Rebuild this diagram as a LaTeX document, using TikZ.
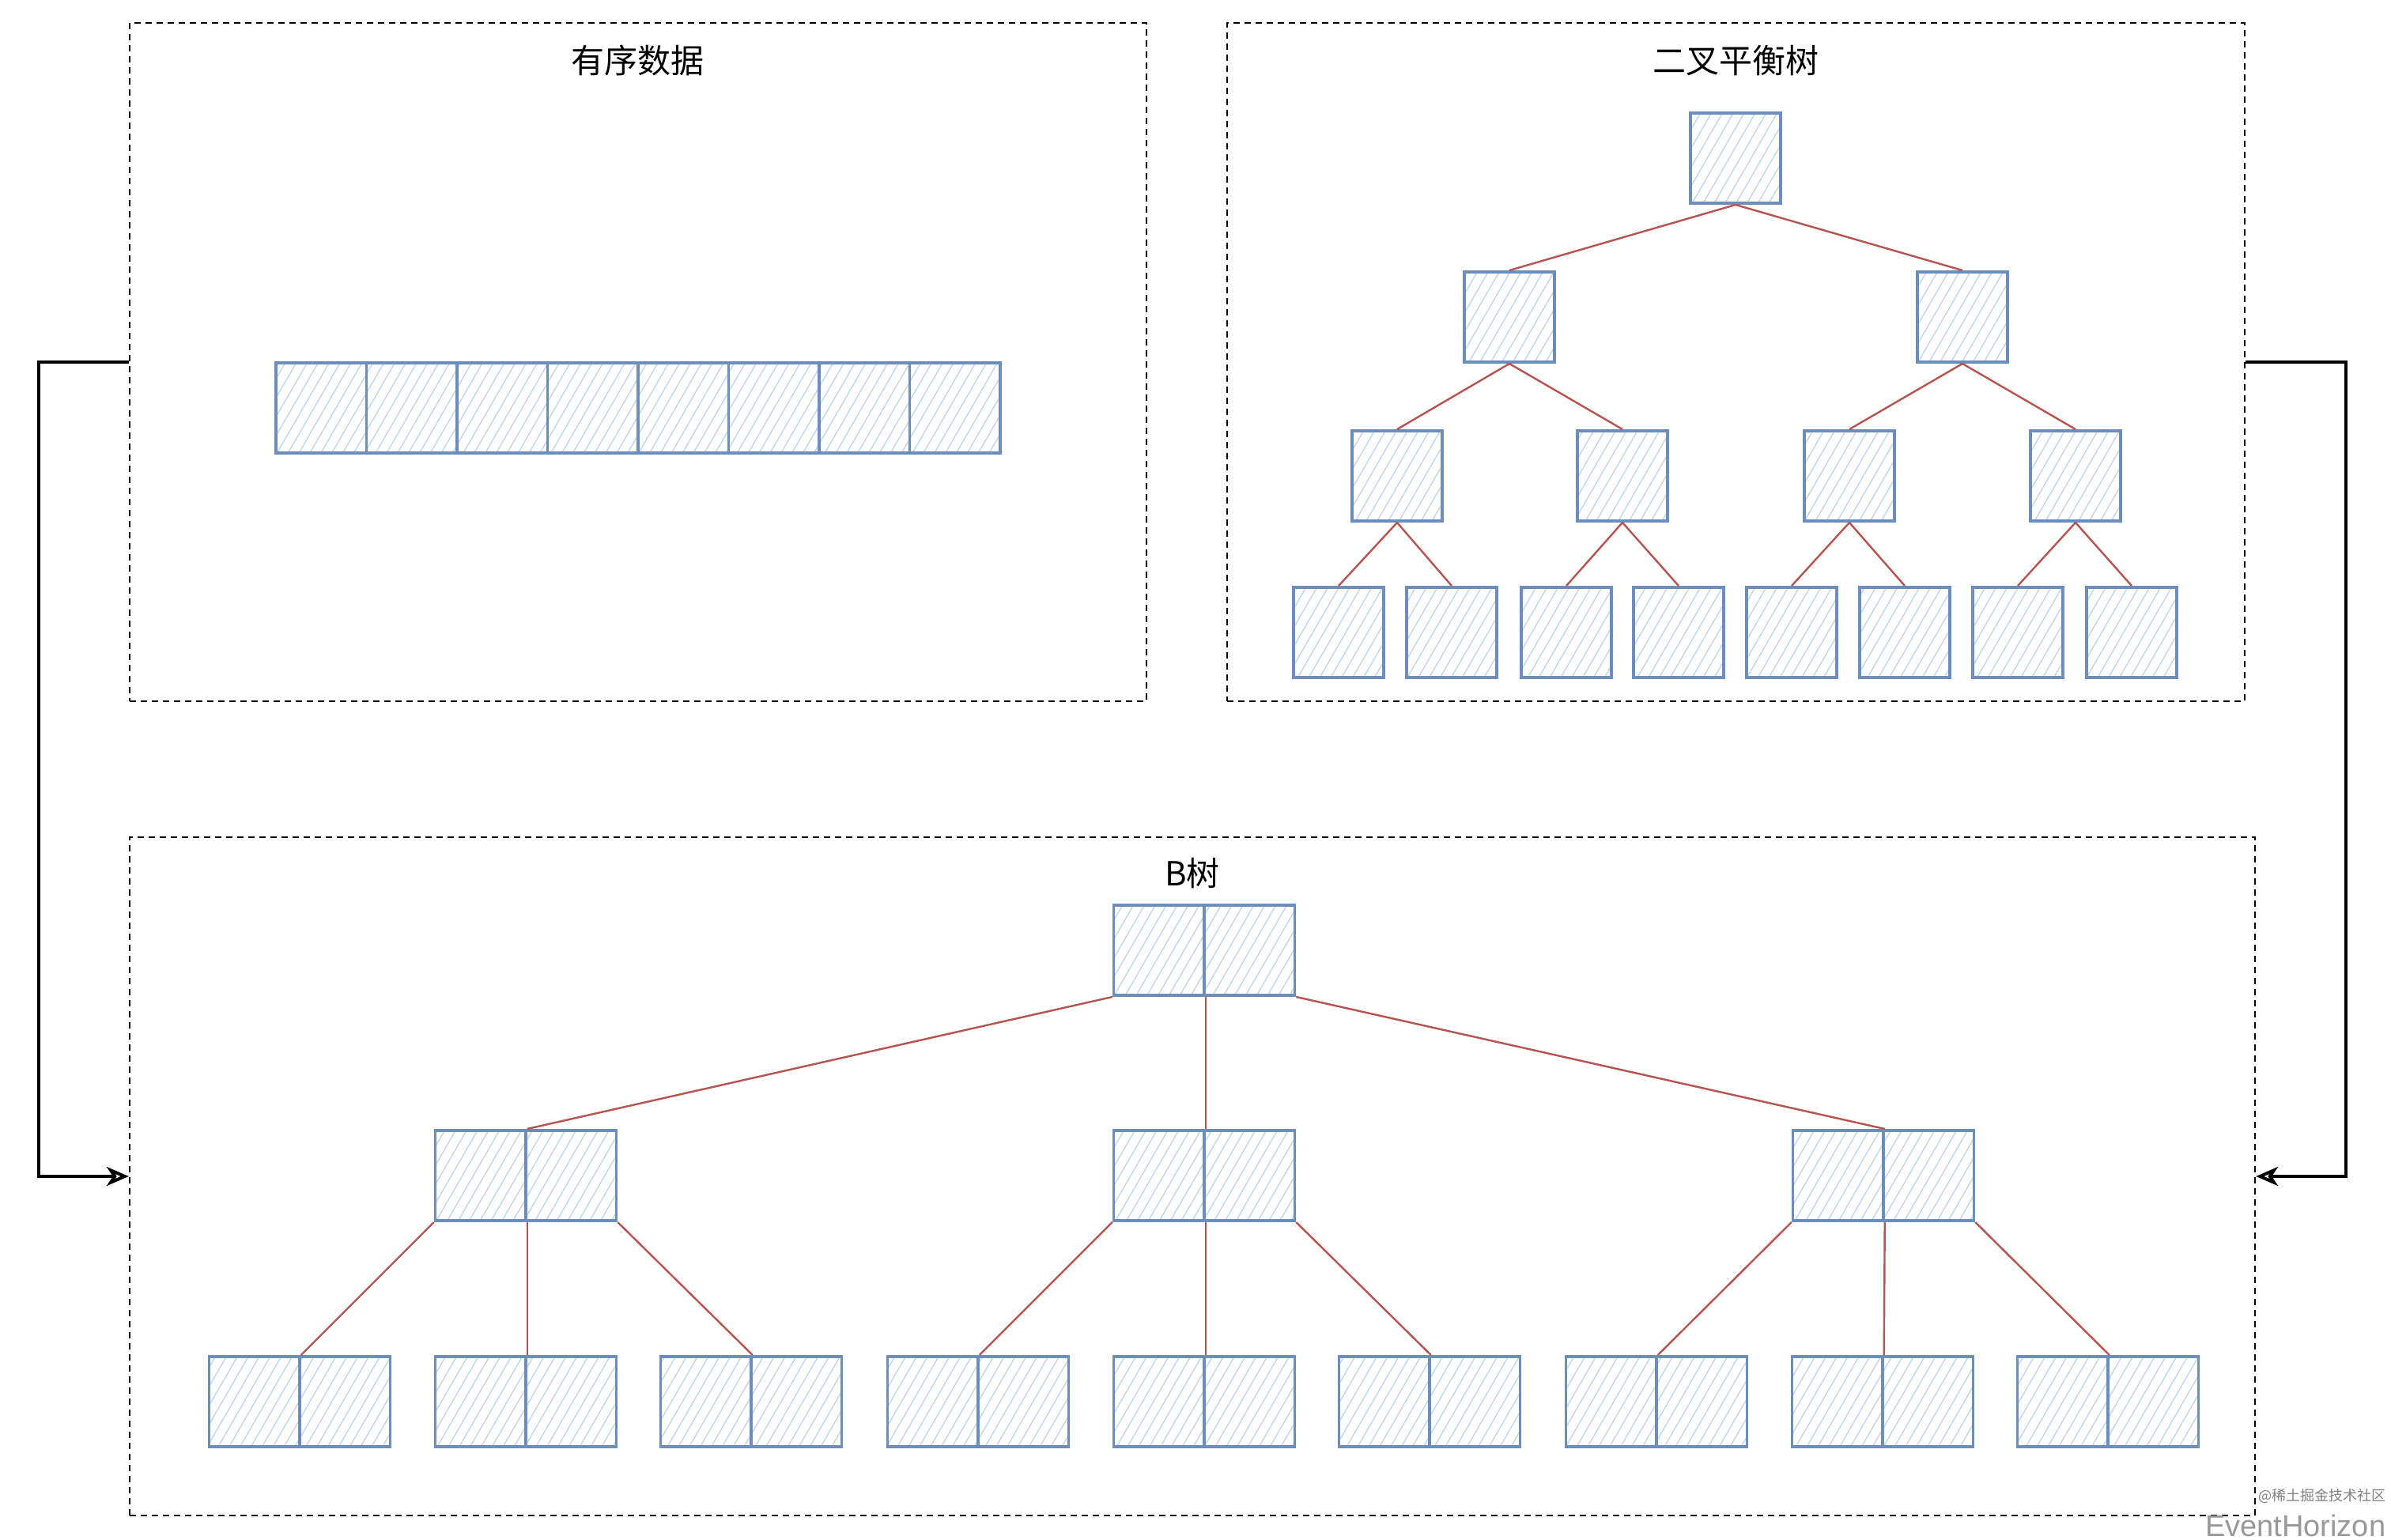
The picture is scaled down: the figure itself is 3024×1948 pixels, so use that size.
\documentclass[tikz,border=0pt]{standalone}
\usepackage{fontspec}
\newfontfamily\cjk{Noto Sans CJK SC}
\newfontfamily\wmfont{Liberation Sans}
\usetikzlibrary{patterns.meta,arrows.meta}
\definecolor{bstroke}{HTML}{6C8EBF}
\definecolor{bhatch}{HTML}{C2D5EE}
\definecolor{redge}{HTML}{B85450}
\begin{document}
\begin{tikzpicture}[x=0.25pt,y=-0.25pt,
  cell/.style={draw=bstroke, line width=0.9pt, minimum width=28.6pt, minimum height=28.6pt, inner sep=0pt,
    pattern={Lines[angle=60,distance=3pt,line width=0.35pt]}, pattern color=bhatch},
  frame/.style={draw=black, line width=0.55pt, dash pattern=on 2pt off 1.5pt, minimum height=214.5pt, inner sep=0pt},
  edge/.style={draw=redge, line width=0.6pt},
  title/.style={font=\cjk\fontsize{10.5}{12}\selectfont, text=black},
  conn/.style={draw=black, line width=1pt, -{Stealth[open,length=7pt,width=6pt,inset=2pt,line width=1pt]}}]
\fill[white] (0,0) rectangle (3024,1948);
\useasboundingbox (0,0) rectangle (3024,1948);
% frames
\node[frame, minimum width=321.5pt] (tl) at (807,458) {};
\node[frame, minimum width=321.75pt] (tr) at (2195.5,458) {};
\node[frame, minimum width=672pt] (bt) at (1508,1488) {};
\node[title] (t1) at (806,77) {有序数据};
\node[title] (t2) at (2195,77) {二叉平衡树};
\node[title] (t3) at (1508,1105) {B树};
% sorted array
\foreach \i in {0,...,7}{
  \node[cell] (a\i) at ({349+114.5*(\i+0.5)},516) {};
}
% binary tree
\node[cell] (n1) at (2195,200) {};
\node[cell] (n2) at (1909,401) {};
\node[cell] (n3) at (2482,401) {};
\node[cell] (n4) at (1767,602) {};
\node[cell] (n5) at (2052,602) {};
\node[cell] (n6) at (2339,602) {};
\node[cell] (n7) at (2625,602) {};
\node[cell] (n8) at (1693,800) {};
\node[cell] (n9) at (1836,800) {};
\node[cell] (n10) at (1981,800) {};
\node[cell] (n11) at (2123,800) {};
\node[cell] (n12) at (2266,800) {};
\node[cell] (n13) at (2409,800) {};
\node[cell] (n14) at (2552,800) {};
\node[cell] (n15) at (2696,800) {};
\foreach \p/\c in {1/2,1/3,2/4,2/5,3/6,3/7,4/8,4/9,5/10,5/11,6/12,6/13,7/14,7/15}{
  \draw[edge] (n\p.south) -- (n\c.north);
}
% B-tree
\node[cell] (ra) at (1465.75,1202) {};
\node[cell] (rb) at (1580.25,1202) {};
\foreach \k/\x in {1/665,2/1523,3/2382}{
  \node[cell] (m\k a) at ({\x-57.25},1487) {};
  \node[cell] (m\k b) at ({\x+57.25},1487) {};
}
\foreach \k/\x in {1/379,2/665,3/950,4/1237,5/1523,6/1808,7/2095,8/2381,9/2666}{
  \node[cell] (l\k a) at ({\x-57.25},1773) {};
  \node[cell] (l\k b) at ({\x+57.25},1773) {};
}
\draw[edge] (ra.south west) -- (m1a.north east);
\draw[edge] (ra.south east) -- (m2a.north east);
\draw[edge] (rb.south east) -- (m3a.north east);
\foreach \k/\c/\d/\e in {1/1/2/3,2/4/5/6,3/7/8/9}{
  \draw[edge] (m\k a.south west) -- (l\c a.north east);
  \draw[edge] (m\k a.south east) -- (l\d a.north east);
  \draw[edge] (m\k b.south east) -- (l\e a.north east);
}
% connectors
\draw[conn] (tl.west) -- ++(-114,0) |- (bt.west);
\draw[conn] (tr.east) -- ++(127,0) |- (bt.east);
% watermark
\node[font=\wmfont\fontsize{9.5}{10}\selectfont, text=gray!80, anchor=east, inner sep=0pt] (wm1) at (3018,1930) {EventHorizon};
\node[font=\cjk\fontsize{4.5}{5}\selectfont, text=gray, anchor=east, inner sep=0pt] (wm2) at (3018,1892) {@稀土掘金技术社区};
\end{tikzpicture}
\end{document}
